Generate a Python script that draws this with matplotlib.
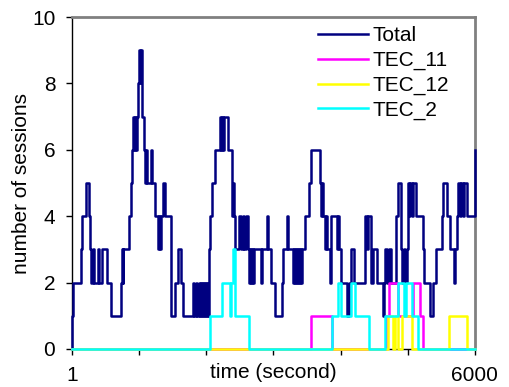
import numpy as np
import matplotlib
matplotlib.use("Agg")
import matplotlib.pyplot as plt

plt.rcParams['font.family'] = ['Liberation Sans', 'DejaVu Sans']

# change points (seconds) and number of sessions after each change
total_t = [1, 8, 15, 134, 156, 216, 260, 275, 290, 313, 328, 395, 410, 447, 521, 581,
           737, 744, 755, 767, 856, 878, 889, 908, 923, 934, 953, 963, 990, 1002, 1020,
           1027, 1050, 1080, 1094, 1109, 1124, 1176, 1199, 1236, 1280, 1295, 1310, 1325,
           1355, 1385, 1481, 1534, 1578, 1630, 1660, 1801, 1816, 1853, 1868, 1891, 1906,
           1920, 1935, 1950, 1965, 1980, 1995, 2010, 2025, 2044, 2055, 2080, 2129, 2204,
           2219, 2234, 2249, 2263, 2327, 2378, 2390, 2405, 2420, 2427, 2494, 2516, 2546,
           2568, 2598, 2620, 2643, 2658, 2673, 2687, 2702, 2717, 2814, 2829, 2903, 2918,
           2970, 3022, 3122, 3141, 3201, 3223, 3290, 3305, 3320, 3335, 3350, 3365, 3380,
           3395, 3410, 3424, 3469, 3529, 3554, 3692, 3707, 3722, 3737, 3767, 3782, 3796,
           3841, 3864, 3945, 3968, 3983, 4005, 4095, 4132, 4154, 4206, 4362, 4392, 4407,
           4452, 4481, 4541, 4630, 4645, 4660, 4698, 4720, 4749, 4824, 4854, 4899, 4913,
           4943, 4958, 4988, 5003, 5025, 5040, 5062, 5077, 5122, 5152, 5226, 5241, 5330,
           5375, 5420, 5509, 5524, 5584, 5628, 5695, 5710, 5732, 5747, 5777, 5792, 5822,
           5836, 5881, 5995]
total_v = [0, 1, 2, 3, 4, 5, 4, 3, 2, 3, 2, 3, 2, 3, 2, 1,
           2, 3, 2, 3, 4, 5, 6, 7, 6, 7, 6, 7, 8, 9, 8,
           9, 7, 6, 5, 6, 5, 6, 5, 4, 3, 4, 3, 4,
           5, 4, 1, 2, 3, 2, 1, 2, 1, 2, 1, 2, 1,
           2, 1, 2, 1, 2, 1, 2, 1, 3, 4, 5, 6, 7,
           6, 7, 6, 7, 6, 5, 4, 5, 4, 3, 4, 3, 4,
           3, 4, 3, 2, 3, 2, 3, 2, 3, 2, 3, 4, 3,
           2, 1, 2, 3, 4, 3, 2, 3, 2, 3, 2, 3, 2,
           3, 2, 3, 4, 5, 6, 5, 4, 5, 4, 3, 4, 3,
           2, 4, 3, 4, 3, 2, 1, 2, 3, 2, 4, 3, 4,
           2, 3, 2, 1, 2, 3, 2, 3, 2, 4, 5, 3, 2,
           3, 2, 3, 5, 4, 5, 4, 5, 4, 4, 3, 2, 1,
           2, 3, 4, 5, 4, 3, 2, 3, 4, 5, 4, 5, 4,
           5, 4, 6]

tec11_t = [1, 3554, 3867, 4675, 4727, 4854, 5085, 5182, 5234]
tec11_v = [0, 1, 0, 1, 2, 1, 2, 1, 0]

tec12_t = [1, 4700, 4784, 4809, 4858, 4920, 5057, 5620, 5876]
tec12_v = [0, 1, 0, 1, 0, 1, 0, 1, 0]

tec2_t = [1, 2055, 2229, 2352, 2367, 2402, 2427, 2640, 3867, 3965, 4005, 4154,
          4214, 4422, 4660, 4854, 4950, 4973, 5062, 5156]
tec2_v = [0, 1, 2, 1, 2, 3, 1, 0, 1, 2, 1, 2,
          1, 0, 1, 2, 1, 2, 1, 0]

t_end = 6000

fig = plt.figure(figsize=(5.09, 3.87), dpi=100)
ax = fig.add_axes([0.1415, 0.0982, 0.7915, 0.8578])

series = [("Total", total_t, total_v, "#000080"),
          ("TEC_11", tec11_t, tec11_v, "#FF00FF"),
          ("TEC_12", tec12_t, tec12_v, "#FFFF00"),
          ("TEC_2", tec2_t, tec2_v, "#00FFFF")]

for name, t, v, c in series:
    tt = list(t) + [t_end]
    vv = list(v) + [v[-1]]
    ax.step(tt, vv, where="post", color=c, lw=1.8, label=name, clip_on=False, zorder=3)

ax.set_xlim(1, t_end)
ax.set_ylim(0, 10)
ax.set_yticks([0, 2, 4, 6, 8, 10])
ax.set_xticks(np.linspace(1, t_end, 7))
ax.set_xticklabels(["1", "", "", "", "", "", "6000"])
ax.tick_params(labelsize=15, length=4.5, width=1, direction="out", pad=8)
ax.tick_params(axis="y", pad=7.5)

for s in ["top", "right"]:
    ax.spines[s].set_color("#808080")
    ax.spines[s].set_linewidth(2)
for s in ["left", "bottom"]:
    ax.spines[s].set_color("black")
    ax.spines[s].set_linewidth(1)

ax.set_ylabel("number of sessions", fontsize=15, labelpad=1)
ax.text(0.5, -0.07, "time (second)", transform=ax.transAxes, ha="center", va="center",
        fontsize=15)

leg = ax.legend(loc="upper left", bbox_to_anchor=(0.61, 0.972), frameon=False,
                fontsize=15, handlelength=2.4, handletextpad=0.25, labelspacing=0.27,
                borderpad=0, borderaxespad=0)

fig.savefig("out.png", dpi=100)
